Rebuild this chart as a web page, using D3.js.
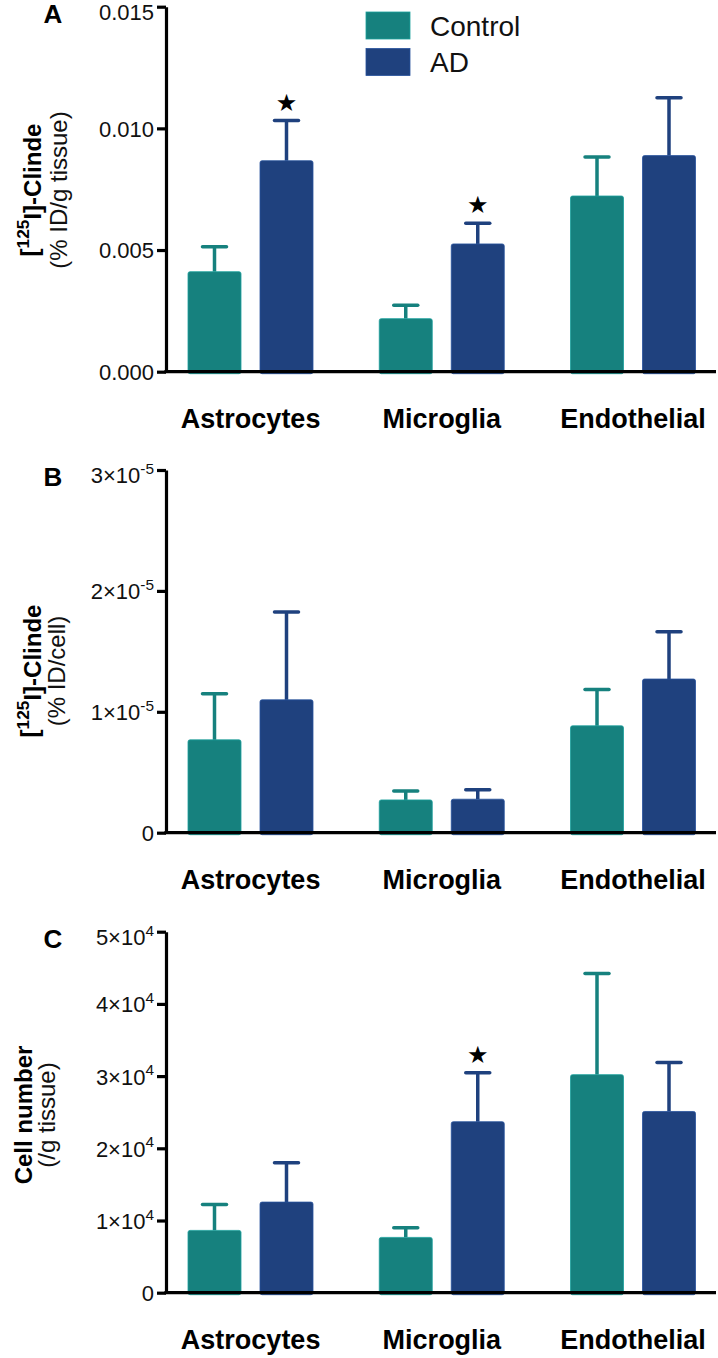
<!DOCTYPE html>
<html><head><meta charset="utf-8">
<script src="https://cdn.jsdelivr.net/npm/d3@7"></script>
<style>
html,body{margin:0;padding:0;background:#fff;}
svg{display:block;font-family:"Liberation Sans",Arial,Helvetica,sans-serif;}
</style></head>
<body>
<svg id="chart" width="718" height="1358"></svg>
<script>
// ---- data ----
const categories = ["Astrocytes", "Microglia", "Endothelial"];
const seriesNames = ["Control", "AD"];
const seriesColors = ["#16817e", "#1f417e"];

// Panel A: [125I]-Clinde (% ID/g tissue)
const controlA = [0.00411, 0.00218, 0.00722];
const controlAErr = [0.00103, 0.00055, 0.00160];
const adA = [0.00867, 0.00525, 0.00888];
const adAErr = [0.00165, 0.00085, 0.00238];
const starsA = [true, true, false];
const ticksA = [0, 0.005, 0.010, 0.015];

// Panel B: [125I]-Clinde (% ID/cell)
const controlB = [0.768e-5, 0.271e-5, 0.884e-5];
const controlBErr = [0.381e-5, 0.074e-5, 0.301e-5];
const adB = [1.099e-5, 0.277e-5, 1.271e-5];
const adBErr = [0.727e-5, 0.079e-5, 0.392e-5];
const starsB = [false, false, false];
const ticksB = [0, 1e-5, 2e-5, 3e-5];

// Panel C: Cell number (/g tissue)
const controlC = [0.863e4, 0.766e4, 3.02e4];
const controlCErr = [0.36e4, 0.134e4, 1.40e4];
const adC = [1.255e4, 2.368e4, 2.51e4];
const adCErr = [0.545e4, 0.679e4, 0.68e4];
const starsC = [false, true, false];
const ticksC = [0, 1e4, 2e4, 3e4, 4e4, 5e4];

// ---- drawing ----
const svg = d3.select("#chart");
const axisX = 166, axisRight = 716;

const xGroup = d3.scaleBand().domain(categories).range([155, 728.75]).padding(0);
const xSeries = d3.scaleBand().domain(seriesNames).range([33, 158]).paddingInner(19/72).paddingOuter(0);
const color = d3.scaleOrdinal().domain(seriesNames).range(seriesColors);

function supLabel(sel, d, exp) {
  sel.text(null);
  if (d === 0) { sel.text("0"); return; }
  const m = Math.round(d / Math.pow(10, exp));
  sel.append("tspan").text(m + "×10");
  sel.append("tspan").attr("dy", "-0.6em").attr("font-size", "0.7em").text(String(exp));
}

const panels = [
  {letter:"A", top:6.7, bottom:371.7, max:0.015, ticks:ticksA, ctrl:controlA, ctrlErr:controlAErr, ad:adA, adErr:adAErr, stars:starsA,
   fmt:(s,d)=>s.text(d3.format(".3f")(d)), titleBold:"clinde", titleReg:"(% ID/g tissue)", boldX:38, regX:67, titleY:190},
  {letter:"B", top:470, bottom:832.7, max:3e-5, ticks:ticksB, ctrl:controlB, ctrlErr:controlBErr, ad:adB, adErr:adBErr, stars:starsB,
   fmt:(s,d)=>supLabel(s,d,-5), titleBold:"clinde", titleReg:"(% ID/cell)", boldX:38, regX:65, titleY:671},
  {letter:"C", top:931.7, bottom:1292.7, max:5e4, ticks:ticksC, ctrl:controlC, ctrlErr:controlCErr, ad:adC, adErr:adCErr, stars:starsC,
   fmt:(s,d)=>supLabel(s,d,4), titleBold:"Cell number", titleReg:"(/g tissue)", boldX:32, regX:55, titleY:1115}
];

panels.forEach(p => {
  const y = d3.scaleLinear().domain([0, p.max]).range([p.bottom, p.top]);
  const g = svg.append("g");

  const rows = categories.map((c, i) => ({
    cat: c,
    vals: [
      {s: "Control", v: p.ctrl[i], e: p.ctrlErr[i], star: false},
      {s: "AD", v: p.ad[i], e: p.adErr[i], star: p.stars[i]}
    ]
  }));
  const grp = g.selectAll("g.grp").data(rows).join("g").attr("class","grp")
    .attr("transform", d => `translate(${xGroup(d.cat)},0)`);

  // error bars (upper only)
  grp.selectAll("g.err").data(d => d.vals).join("g").attr("class","err").each(function(d){
    const gg = d3.select(this);
    const cx = xSeries(d.s) + xSeries.bandwidth()/2;
    gg.append("line").attr("x1", cx).attr("x2", cx).attr("y1", y(d.v)).attr("y2", y(d.v + d.e))
      .attr("stroke", color(d.s)).attr("stroke-width", 3.5);
    gg.append("line").attr("x1", cx - 12).attr("x2", cx + 12).attr("y1", y(d.v + d.e)).attr("y2", y(d.v + d.e))
      .attr("stroke", color(d.s)).attr("stroke-width", 3.5).attr("stroke-linecap","round");
    if (d.star) {
      gg.append("text").attr("x", cx).attr("y", y(d.v + d.e) - 10).attr("text-anchor","middle")
        .attr("font-family","DejaVu Sans").attr("font-size", 24).attr("fill","#000").text("★");
    }
  });

  grp.selectAll("rect").data(d => d.vals).join("rect")
    .attr("x", d => xSeries(d.s))
    .attr("width", xSeries.bandwidth())
    .attr("y", d => y(d.v))
    .attr("height", d => y(0) - y(d.v) + 2)
    .attr("rx", 2)
    .attr("fill", d => color(d.s))
    .attr("stroke", d => d3.color(color(d.s)).brighter(0.6))
    .attr("stroke-width", 0.8);

  // y axis
  const ax = g.append("g").attr("transform", `translate(${axisX},0)`)
    .call(d3.axisLeft(y).tickValues(p.ticks).tickSize(9).tickSizeOuter(0).tickPadding(3));
  ax.select(".domain").attr("stroke","#000").attr("stroke-width",3.2);
  ax.selectAll(".tick line").attr("stroke","#000").attr("stroke-width",3.2);
  ax.selectAll(".tick text").attr("font-size", 22).attr("fill","#111")
    .attr("dy", d => d === p.max ? "0.58em" : "0.36em")
    .each(function(d){ p.fmt(d3.select(this), d); });

  // x axis line
  g.append("line").attr("x1", axisX - 1.6).attr("x2", axisRight).attr("y1", p.bottom).attr("y2", p.bottom)
    .attr("stroke","#000").attr("stroke-width",3.2);

  // category labels
  g.selectAll("text.cat").data(categories).join("text").attr("class","cat")
    .attr("x", d => xGroup(d) + xGroup.bandwidth()/2)
    .attr("y", p.bottom + 56)
    .attr("text-anchor","middle").attr("font-weight","bold").attr("font-size", 27).attr("fill","#000")
    .text(d => d);

  // panel letter
  g.append("text").attr("x", 53).attr("y", p.top + 16).attr("text-anchor","middle")
    .attr("font-weight","bold").attr("font-size", 26).attr("fill","#000").text(p.letter);

  // y-axis title
  const tb = g.append("text").attr("transform", `translate(${p.boldX},${p.titleY}) rotate(-90)`)
    .attr("text-anchor","middle").attr("font-weight","bold").attr("font-size", 24).attr("fill","#000");
  if (p.titleBold === "clinde") {
    tb.append("tspan").text("[");
    tb.append("tspan").attr("dy","-0.5em").attr("font-size","0.72em").text("125");
    tb.append("tspan").attr("dy","0.5em").text("I]-Clinde");
  } else {
    tb.text(p.titleBold);
  }
  g.append("text").attr("transform", `translate(${p.regX},${p.titleY}) rotate(-90)`)
    .attr("text-anchor","middle").attr("font-size", 24).attr("fill","#111").text(p.titleReg);
});

// legend
const leg = svg.append("g");
seriesNames.forEach((s, i) => {
  leg.append("rect").attr("x", 366).attr("y", 12 + i*36.5).attr("width", 44).attr("height", 27)
    .attr("fill", color(s)).attr("stroke", d3.color(color(s)).brighter(0.6)).attr("stroke-width",0.8);
  leg.append("text").attr("x", 430).attr("y", 12 + i*36.5 + 23.5).attr("font-size", 28).attr("fill","#111").text(s);
});
</script>
</body></html>
